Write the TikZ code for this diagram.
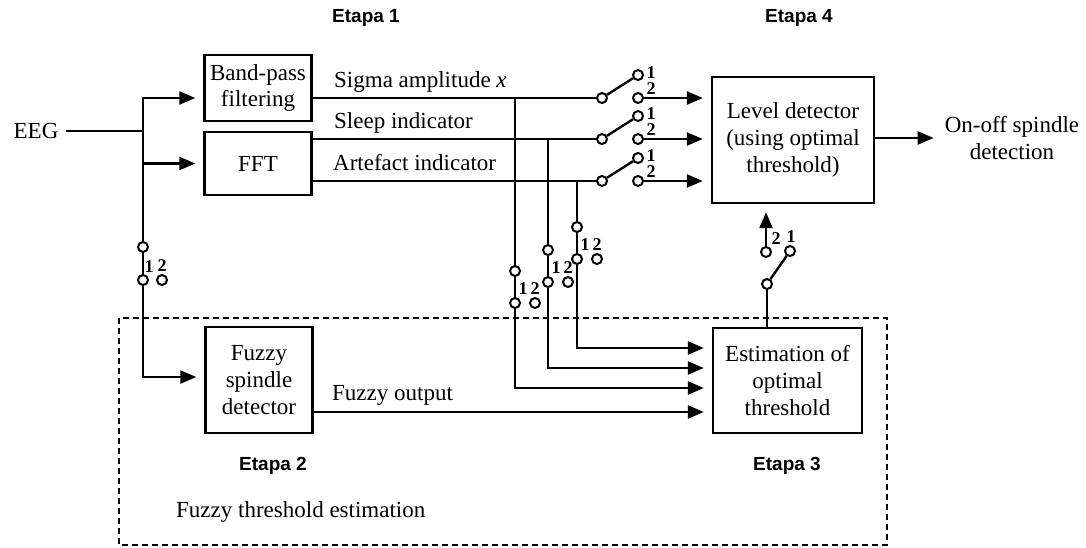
\documentclass[tikz,border=0pt]{standalone}
\usepackage{fontspec}
\setmainfont{Liberation Serif}
\newfontfamily\etapafont{Liberation Sans}
\usetikzlibrary{arrows.meta,positioning,calc}
\tikzset{
  box/.style={draw,line width=1.2pt,align=center,inner sep=2pt,minimum width=53.5pt},
  arr/.style={-{Triangle[length=8pt,width=6.5pt]},line width=1.2pt,shorten >=4pt},
  sw/.style={circle,draw,line width=1pt,fill=white,inner sep=0pt,minimum size=5pt},
  num/.style={font=\fontsize{9}{10}\selectfont\bfseries,inner sep=0pt},
  lbl/.style={anchor=base west,inner sep=0pt},
  stage/.style={font=\etapafont\bfseries\fontsize{9.5}{11}\selectfont},
  frame/.style={line width=0.9pt,dash pattern=on 3pt off 2pt}
}

\begin{document}
\begin{tikzpicture}[x=0.5pt,y=-0.5pt,line width=1.2pt,font=\fontsize{11.5}{13.3}\selectfont]
  \useasboundingbox (0,0) rectangle (1086,547);
  \node[box,minimum height=33pt] (bp) at (258,88) {Band-pass\\filtering};
  \node[box,minimum height=31.5pt] (fft) at (258,163.5) {FFT};
  \node[box,minimum height=53pt] (fz) at (259,380) {Fuzzy\\spindle\\detector};
  \node[box,minimum width=74.5pt,minimum height=52.5pt] (est) at (787.5,380.5) {Estimation of\\optimal\\threshold};
  \node[box,minimum width=81pt,minimum height=63pt] (lvl) at (793,140) {Level detector\\(using optimal\\threshold)};
  \node (eeg) at (36,131) {EEG};
  \node[align=center,inner sep=1pt] (out) at (1012,138) {On-off spindle\\detection};
  \draw[frame] (119,318) rectangle (887,545);
  \node[stage] (et1) at (366,18) {Etapa 1};
  \node[stage] (et4) at (799,18) {Etapa 4};
  \node[stage] (et2) at (273,466) {Etapa 2};
  \node[stage] (et3) at (787,466) {Etapa 3};
  \node[anchor=west,inner sep=0pt] (fte) at (175,512) {Fuzzy threshold estimation};

  \node[sw] (sLa) at (143,247) {};
  \node[sw] (sLb) at (143,280) {};
  \node[sw] (sLc) at (162,280) {};
  \node[num] at (149,267) {1};
  \node[num] at (162,266) {2};
  \coordinate (j0) at (sLa |- eeg);
  \draw (eeg) -- (j0);
  \draw[arr] (j0) |- ($(bp.west)+(0,10)$);
  \draw[arr] (j0) |- (fft.west);
  \draw (j0) -- (sLa);
  \draw (sLa) -- (sLb);
  \draw[arr] (sLb) |- ($(fz.west)+(0,-3)$);

  \foreach \i/\y/\b in {1/98/bp,2/139/fft,3/181/fft} {
    \node[sw] (sc\i) at (602,\y) {};
    \node[sw] (sa\i) at (638,\y-23) {};
    \node[sw] (sb\i) at (638,\y) {};
    \node[num] at (651,\y-25) {1};
    \node[num] at (651,\y-9) {2};
    \draw (\b.east |- sc\i) -- (sc\i);
    \draw (sc\i) -- (sa\i);
    \draw[arr] (sb\i) -- (sb\i -| lvl.west);
  }
  \node[lbl] (sig) at (333,87) {Sigma amplitude \textit{x}};
  \node[lbl] (slp) at (333,128) {Sleep indicator};
  \node[lbl] (art) at (332,170) {Artefact indicator};

  \foreach \i/\x/\y/\o in {1/515/271/7.5,2/548/250/-12.5,3/577/227/-32.5} {
    \node[sw] (va\i) at (\x,\y) {};
    \node[sw] (vb\i) at (\x,\y+32) {};
    \node[sw] (vc\i) at (\x+20,\y+32) {};
    \node[num] at (\x+8,\y+18) {1};
    \node[num] at (\x+20,\y+18) {2};
    \draw (va\i |- sc\i) -- (va\i);
    \draw (va\i) -- (vb\i);
    \draw[arr] (vb\i) |- ($(est.west)+(0,\o)$);
  }
  \draw[arr] ($(fz.east)+(0,32)$) -- ($(est.west)+(0,31.5)$);
  \node[lbl] (fzo) at (331,400) {Fuzzy output};

  \node[sw] (lc) at (767,284) {};
  \node[sw] (la) at (790,251) {};
  \node[sw] (lb) at (766,252) {};
  \node[num] at (776,239) {2};
  \node[num] at (791,237) {1};
  \draw (lc |- est.north) -- (lc);
  \draw (lc) -- (la);
  \draw[arr] (lb) -- (lb |- lvl.south);
  \draw[arr] (lvl.east |- out) -- (out.west);
\end{tikzpicture}
\end{document}
